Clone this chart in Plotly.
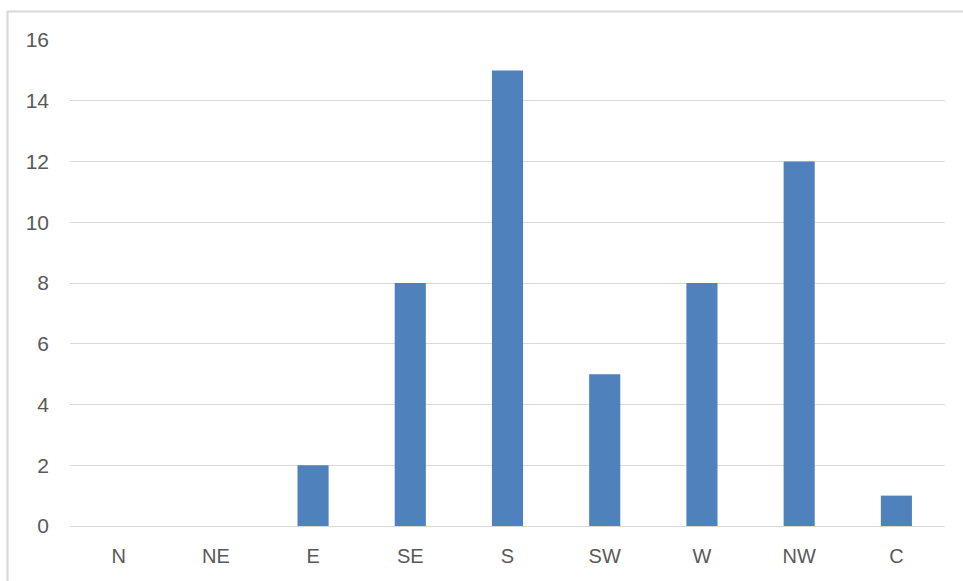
import plotly.graph_objects as go

categories = ["N", "NE", "E", "SE", "S", "SW", "W", "NW", "C"]
values = [0, 0, 2, 8, 15, 5, 8, 12, 1]
y_ticks = [0, 2, 4, 6, 8, 10, 12, 14, 16]

W, H = 963, 581
L, R, T, B = 70, 18, 40, 55
pw, ph = W - L - R, H - T - B

def px_x(p):
    return (p - L) / pw

def px_y(p):
    return (H - B - p) / ph

fig = go.Figure(go.Bar(x=categories, y=values, marker=dict(color="#4F81BD", line=dict(width=0))))

fig.update_layout(
    width=W, height=H,
    margin=dict(l=L, r=R, t=T, b=B),
    plot_bgcolor="white", paper_bgcolor="white",
    bargap=0.68,
    showlegend=False,
    font=dict(family="Liberation Sans", size=21, color="#595959"),
    xaxis=dict(showgrid=False, showline=False, ticks="", ticklabelstandoff=16,
               tickfont=dict(size=20)),
    yaxis=dict(range=[0, 16], tickvals=y_ticks, showgrid=True, gridcolor="#D9D9D9", gridwidth=1.3,
               zeroline=True, zerolinecolor="#D9D9D9", zerolinewidth=1.3, showline=False, ticks="",
               ticklabelstandoff=20, tickfont=dict(size=21)),
    shapes=[dict(type="rect", xref="paper", yref="paper",
                 x0=px_x(7.5), x1=px_x(975), y0=px_y(585), y1=px_y(11.5),
                 line=dict(color="#D9D9D9", width=2.2), fillcolor="rgba(0,0,0,0)", layer="below")],
)

fig.write_html("out.html")
